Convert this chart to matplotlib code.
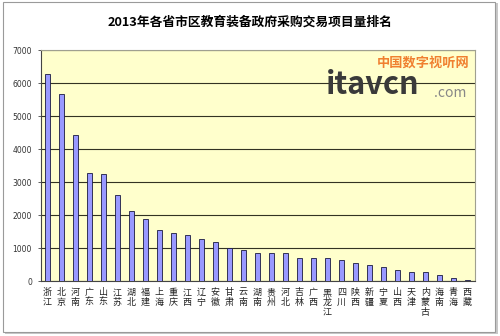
import matplotlib
matplotlib.use("Agg")
import matplotlib.pyplot as plt
from matplotlib.patches import Rectangle
import numpy as np

plt.rcParams['font.family'] = ['Noto Sans CJK SC', 'DejaVu Sans']

# ---- data ----
provinces = ["浙江", "北京", "河南", "广东", "山东", "江苏", "湖北", "福建", "上海", "重庆",
             "江西", "辽宁", "安徽", "甘肃", "云南", "湖南", "贵州", "河北", "吉林", "广西",
             "黑龙江", "四川", "陕西", "新疆", "宁夏", "山西", "天津", "内蒙古", "海南", "青海", "西藏"]
counts = [6280, 5680, 4420, 3280, 3250, 2620, 2120, 1870, 1540, 1450,
          1410, 1280, 1200, 1000, 950, 870, 840, 850, 700, 700,
          700, 630, 550, 490, 430, 330, 290, 270, 190, 90, 50]
yticks = [0, 1000, 2000, 3000, 4000, 5000, 6000, 7000]
title = "2013年各省市区教育装备政府采购交易项目量排名"

fig = plt.figure(figsize=(5, 3.36), dpi=100)
fig.patch.set_facecolor("white")

# outer frame with a small shadow
fig.add_artist(Rectangle((0.010, 0.005), 0.985, 0.985, transform=fig.transFigure,
                         facecolor="#c8c8c8", edgecolor="none", zorder=-2))
fig.add_artist(Rectangle((0.006, 0.012), 0.984, 0.982, transform=fig.transFigure,
                         facecolor="white", edgecolor="#9a9a9a", linewidth=0.8, zorder=-1))

ax = fig.add_axes([0.082, 0.163, 0.868, 0.688])
ax.set_facecolor("#ffffcc")

x = np.arange(len(provinces))
ax.bar(x, counts, width=0.36, color="#9999ff", edgecolor="#1a1a40", linewidth=0.6, zorder=3)

ax.set_xlim(-0.45, len(provinces) - 0.45)
ax.set_ylim(0, 7000)
ax.set_yticks(yticks)
ax.set_yticklabels([str(v) for v in yticks], fontsize=5.5, family="DejaVu Sans", color="#333333")
ax.yaxis.grid(True, color="#333322", linewidth=0.8, zorder=1)
ax.tick_params(axis="y", length=2.5, width=0.6, color="#444444", pad=4)

ax.set_xticks(x)
ax.set_xticklabels(["\n".join(p) for p in provinces], fontsize=6.5, linespacing=1.1,
                   va="top", color="#222222")
ax.tick_params(axis="x", length=0, pad=5)

for s in ax.spines.values():
    s.set_color("#a0a090")
    s.set_linewidth(0.8)
ax.spines["left"].set_color("#444444")
ax.spines["bottom"].set_color("#444444")

fig.text(0.5, 0.933, title, ha="center", va="center", fontsize=9.2, fontweight="bold")

# watermark logo
fig.text(0.94, 0.815, "中国数字视听网", ha="right", va="center", fontsize=9.5,
         fontweight="bold", color="#f08030", style="italic")
fig.text(0.652, 0.748, "itavcn", ha="left", va="center", fontsize=22,
         fontweight="bold", color="#3a3a3a")
fig.text(0.868, 0.722, ".com", ha="left", va="center", fontsize=10, color="#888888")

fig.savefig("out.png", dpi=100)
